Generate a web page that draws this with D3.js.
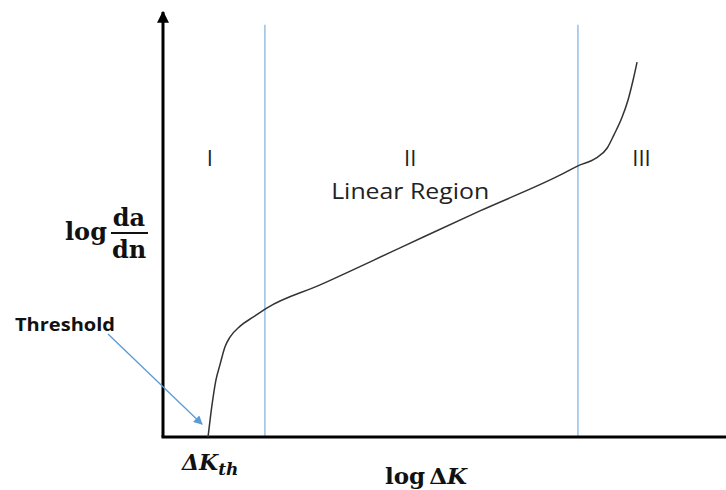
<!DOCTYPE html>
<html>
<head>
<meta charset="utf-8">
<script src="https://cdn.jsdelivr.net/npm/d3@7"></script>
<style>
  html, body { margin: 0; padding: 0; background: #fff; }
  svg { display: block; }
</style>
</head>
<body>
<div id="chart"></div>
<script>
// crack growth curve (arbitrary log units, 0..100)
const logDeltaK = [8.0, 8.7, 9.4, 10.1, 11.0, 11.9, 13.7, 16.0, 18.5, 27.9, 42.1, 56.3, 70.5, 73.7, 76.9, 78.9, 80.1, 81.5, 82.6, 83.5, 84.2];
const logDadn   = [0.0, 7.5, 13.4, 16.9, 21.2, 23.5, 26.1, 28.2, 30.4, 35.8, 44.5, 53.2, 61.6, 63.8, 65.6, 68.0, 71.1, 75.1, 79.3, 84.0, 88.2];

// region boundaries (vertical blue lines) and their labels
const regionBounds = [18.1, 73.7];
const regionNames = ['I', 'II', 'III'];
const regionLabelX = [8.3, 43.9, 85.0];
const regionNote = 'Linear Region';

const thresholdK = logDeltaK[0];

const width = 726, height = 490;
const x = d3.scaleLinear().domain([0, 100]).range([163, 726]);
const y = d3.scaleLinear().domain([0, 100]).range([437, 12]);

const svg = d3.select('#chart').append('svg')
  .attr('width', width)
  .attr('height', height);

const defs = svg.append('defs');
defs.append('marker')
  .attr('id', 'axisArrow')
  .attr('viewBox', '0 0 10 10')
  .attr('refX', 9).attr('refY', 5)
  .attr('markerWidth', 4).attr('markerHeight', 4)
  .attr('orient', 'auto')
  .append('path').attr('d', 'M0,0L10,5L0,10z').attr('fill', '#000');
defs.append('marker')
  .attr('id', 'blueArrow')
  .attr('viewBox', '0 0 10 10')
  .attr('refX', 9).attr('refY', 5)
  .attr('markerWidth', 10).attr('markerHeight', 9)
  .attr('markerUnits', 'userSpaceOnUse')
  .attr('orient', 'auto')
  .append('path').attr('d', 'M0,0L10,5L0,10z').attr('fill', '#5b9bd5');

// region dividers
svg.append('g')
  .selectAll('line')
  .data(regionBounds)
  .join('line')
  .attr('x1', d => x(d)).attr('x2', d => x(d))
  .attr('y1', y(97)).attr('y2', y(0))
  .attr('stroke', '#9dc3e6')
  .attr('stroke-width', 1.6);

// axes
svg.append('line')
  .attr('x1', x(0)).attr('y1', y(0))
  .attr('x2', x(0)).attr('y2', y(100))
  .attr('stroke', '#000').attr('stroke-width', 3)
  .attr('marker-end', 'url(#axisArrow)');
svg.append('line')
  .attr('x1', x(0) - 1.5).attr('y1', y(0))
  .attr('x2', x(102)).attr('y2', y(0))
  .attr('stroke', '#000').attr('stroke-width', 3)
  .attr('marker-end', 'url(#axisArrow)');

// the curve
const line = d3.line()
  .x((d, i) => x(logDeltaK[i]))
  .y(d => y(d))
  .curve(d3.curveMonotoneX);

svg.append('path')
  .datum(logDadn)
  .attr('d', line)
  .attr('fill', 'none')
  .attr('stroke', '#333')
  .attr('stroke-width', 1.5);

// region labels
const sans = "'Open Sans', sans-serif";
svg.append('g')
  .selectAll('text')
  .data(regionNames)
  .join('text')
  .attr('x', (d, i) => x(regionLabelX[i]))
  .attr('y', 166)
  .attr('text-anchor', 'middle')
  .attr('font-family', sans)
  .attr('font-size', 22)
  .attr('fill', '#222')
  .text(d => d);

svg.append('text')
  .attr('x', x(regionLabelX[1]))
  .attr('y', 199)
  .attr('text-anchor', 'middle')
  .attr('font-family', sans)
  .attr('font-size', 22)
  .attr('textLength', 158)
  .attr('lengthAdjust', 'spacingAndGlyphs')
  .attr('fill', '#222')
  .text(regionNote);

// y label: log da/dn
const serif = "'DejaVu Serif', serif";
const yl = svg.append('g').attr('font-family', serif).attr('font-weight', 'bold').attr('fill', '#111');
yl.append('text').attr('x', 65).attr('y', 240).attr('font-size', 24).text('log');
yl.append('text').attr('x', 129).attr('y', 226).attr('text-anchor', 'middle').attr('font-size', 24).text('da');
yl.append('line').attr('x1', 111).attr('x2', 148).attr('y1', 233).attr('y2', 233)
  .attr('stroke', '#111').attr('stroke-width', 2);
yl.append('text').attr('x', 129).attr('y', 258).attr('text-anchor', 'middle').attr('font-size', 24).text('dn');

// x label: log ΔK
const xl = svg.append('text')
  .attr('x', 385).attr('y', 484)
  .attr('font-family', serif).attr('font-weight', 'bold')
  .attr('font-size', 23).attr('fill', '#111');
xl.append('tspan').text('log');
xl.append('tspan').attr('dx', 4).text('Δ');
xl.append('tspan').attr('font-style', 'italic').text('K');

// threshold annotation
const kth = svg.append('text')
  .attr('x', x(thresholdK) - 26).attr('y', 470)
  .attr('font-family', serif).attr('font-weight', 'bold').attr('font-style', 'italic')
  .attr('font-size', 22).attr('fill', '#111');
kth.append('tspan').text('ΔK');
kth.append('tspan').attr('font-size', 17).attr('dy', 5).text('th');

svg.append('text')
  .attr('x', 15).attr('y', 331)
  .attr('font-family', sans).attr('font-weight', 'bold')
  .attr('font-size', 17)
  .attr('textLength', 100)
  .attr('lengthAdjust', 'spacingAndGlyphs')
  .attr('fill', '#111')
  .text('Threshold');

svg.append('line')
  .attr('x1', 108).attr('y1', 334)
  .attr('x2', x(thresholdK) - 6).attr('y2', y(3))
  .attr('stroke', '#5b9bd5').attr('stroke-width', 1.3)
  .attr('marker-end', 'url(#blueArrow)');
</script>
</body>
</html>
